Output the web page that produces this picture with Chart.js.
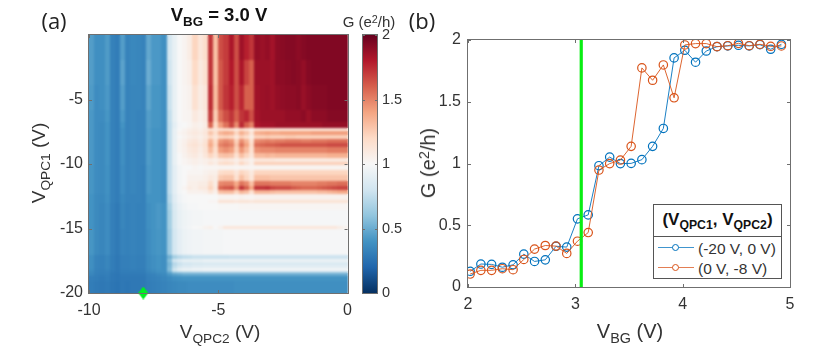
<!DOCTYPE html>
<html><head><meta charset="utf-8">
<script src="https://cdn.jsdelivr.net/npm/chart.js@4"></script>
<style>
html,body{margin:0;padding:0;background:#fff;width:830px;height:349px;overflow:hidden}
canvas{position:absolute}
.t{position:absolute;font-family:"Liberation Sans",Arial,sans-serif;color:#333;white-space:nowrap;line-height:1;transform:translate(-50%,-50%)}
.t sub{font-size:.72em;vertical-align:baseline;position:relative;top:.34em;line-height:0}
.t sup{font-size:.72em;vertical-align:baseline;position:relative;top:-.4em;line-height:0}
.p{font-family:"Open Sans",sans-serif;color:#222;font-size:22px}
#leg{position:absolute;left:653px;top:204px;width:127px;height:73px;border:1px solid #555;background:#fff;font-family:"Liberation Sans",Arial,sans-serif;color:#333}
#leg .h{position:absolute;left:0;right:0;top:0;height:31px;border-bottom:1px solid #555;text-align:center;font-weight:bold;font-size:17px;line-height:30px;color:#111}
#leg .h sub{font-size:.72em;vertical-align:baseline;position:relative;top:.3em;line-height:0}
.ln{position:absolute;left:4px;width:36px;height:1px;opacity:.75}
.mk{position:absolute;left:18px;width:5px;height:5px;border-radius:50%;background:#fff;border:1.2px solid}
.lt{position:absolute;left:44px;font-size:15.5px;line-height:1}
</style></head><body>
<canvas id="heat" width="360" height="349" style="left:0;top:0"></canvas>
<canvas id="bar" width="50" height="349" style="left:360px;top:0"></canvas>
<canvas id="line" width="420" height="349" style="left:410px;top:0"></canvas>

<div class="t p" style="left:54px;top:20px">(a)</div>
<div class="t p" style="left:422px;top:20px">(b)</div>
<div class="t" style="left:219px;top:15px;font-weight:bold;font-size:18.5px;color:#111">V<sub>BG</sub> = 3.0 V</div>
<div class="t" style="left:369px;top:21px;font-size:15px">G (e<sup>2</sup>/h)</div>
<div class="t" style="left:38px;top:163px;font-size:19px;transform:translate(-50%,-50%) rotate(-90deg)">V<sub>QPC1</sub> (V)</div>
<div class="t" style="left:220px;top:331px;font-size:19px">V<sub>QPC2</sub> (V)</div>
<div class="t" style="left:428px;top:163px;font-size:20px;transform:translate(-50%,-50%) rotate(-90deg)">G (e<sup>2</sup>/h)</div>
<div class="t" style="left:630px;top:331px;font-size:20px">V<sub>BG</sub> (V)</div>
<div id="leg">
 <div class="h">(V<sub>QPC1</sub>, V<sub>QPC2</sub>)</div>
 <div class="ln" style="top:42px;background:#0072bd"></div><div class="mk" style="top:39px;border-color:#0072bd"></div><div class="lt" style="top:36px">(-20 V, 0 V)</div>
 <div class="ln" style="top:62px;background:#d95319"></div><div class="mk" style="top:59px;border-color:#d95319"></div><div class="lt" style="top:56px">(0 V, -8 V)</div>
</div>

<script>
// ---------- panel (b) ----------
const vbg=[2.02,2.12,2.22,2.32,2.42,2.52,2.62,2.72,2.82,2.92,3.02,3.12,3.22,3.32,3.42,3.52,3.62,3.72,3.82,3.92,4.02,4.12,4.22,4.32,4.42,4.52,4.62,4.72,4.82,4.92];
const gBlue=[.127,.186,.183,.16,.18,.266,.207,.22,.33,.323,.552,.584,.982,1.052,.999,1.001,1.031,1.139,1.284,1.855,1.917,1.82,1.911,1.946,1.952,1.957,1.952,1.962,1.925,1.965];
const gOrange=[.105,.135,.135,.148,.14,.223,.307,.336,.331,.272,.371,.441,.947,.999,1.028,1.139,1.774,1.674,1.798,1.532,1.96,1.971,1.971,1.946,1.954,1.973,1.954,1.965,1.949,1.952];
const vbgMarker=[3.055];
const xTicksB=[2,3,4,5], yTicksB=[0,.5,1,1.5,2];
// ---------- panel (a) ----------
const xTicksA=[-10,-5,0], yTicksA=[-20,-15,-10,-5], barTicks=[0,.5,1,1.5,2];
const diamond=[{x:-7.9,y:-20}];
const colorPos=[0,.2,.4,.6,.8,1,1.2,1.4,1.6,1.8,2];
const colorHex=['#053061','#2166ac','#4393c3','#92c5de','#d1e5f0','#f7f7f7','#fddbc7','#f4a582','#d6604d','#b2182b','#67001f'];
const qpc2Edges=[-10,-9.8,-9.6,-9.4,-9.2,-9,-8.8,-8.6,-8.4,-8.2,-8,-7.8,-7.6,-7.4,-7.2,-7,-6.8,-6.6,-6.4,-6.2,-6,-5.8,-5.6,-5.4,-5.2,-5,-4.8,-4.6,-4.4,-4.2,-4,-3.8,-3.6,-3.4,-3.2,-3,-2.8,-2.6,-2.4,-2.2,-2,-1.8,-1.6,-1.4,-1.2,-1,-.8,-.6,-.4,-.2,0];
const qpc1Edges=[0,-1.94,-3.88,-5.81,-6.74,-7.2,-7.44,-7.75,-8.06,-8.37,-8.68,-9.15,-9.53,-9.84,-10.08,-10.47,-10.85,-11.32,-11.71,-12.02,-12.33,-12.79,-13.02,-13.57,-14.81,-15.04,-17.05,-17.36,-17.6,-17.91,-18.14,-18.29,-18.45,-18.68,-19.1,-20];
// conductance in units of 0.01 e^2/h, one row per QPC1 band, one column per QPC2 band
const conductance=[
[44,38,38,43,32,30,44,33,35,34,33,48,42,42,38,82,92,100,103,108,122,112,118,172,130,165,170,182,165,185,178,172,188,186,188,184,190,191,192,192,190,192,193,193,193,193,193,193,193,193],
[44,38,38,43,32,30,46,33,35,34,33,50,42,42,38,80,92,100,103,106,120,110,116,172,130,162,170,180,165,182,168,160,186,186,186,185,190,190,191,192,191,188,192,193,193,193,193,193,193,193],
[43,37,38,42,32,30,44,33,34,34,33,47,41,41,38,78,92,100,102,104,116,108,112,174,132,162,172,178,165,176,160,160,185,186,187,185,188,189,190,190,191,187,190,192,192,192,193,193,193,193],
[42,37,37,41,32,30,42,33,34,33,33,44,41,41,38,76,92,100,102,103,110,106,110,170,126,155,165,172,160,172,176,165,184,186,186,186,186,186,188,188,188,190,186,190,190,190,192,192,192,192],
[42,37,36,40,32,30,40,33,34,33,33,44,41,41,38,75,90,99,100,102,106,104,108,158,120,142,155,168,148,175,160,150,182,184,184,184,186,186,186,186,186,186,186,186,186,188,188,188,188,188],
[42,37,36,40,32,30,38,33,34,33,33,43,40,40,38,75,92,100,103,106,108,106,110,116,112,116,118,116,110,118,112,106,116,116,116,116,114,114,114,114,114,114,114,114,114,114,114,114,114,114],
[42,37,36,40,32,30,38,33,34,33,33,43,40,40,38,75,92,102,104,108,110,108,112,128,118,134,138,136,122,136,128,114,136,138,140,138,138,140,140,140,140,140,140,142,142,142,142,142,142,142],
[42,37,36,40,32,30,38,33,34,33,33,43,40,40,38,75,92,100,103,106,108,106,110,120,112,122,124,122,112,124,118,108,124,124,126,124,124,124,126,126,124,124,124,124,124,124,124,124,124,124],
[42,37,36,40,32,30,38,33,34,33,33,43,40,40,38,75,92,102,105,110,112,108,114,134,120,144,148,144,124,146,134,116,148,150,152,150,152,152,154,154,154,152,152,154,154,154,156,156,156,156],
[42,37,36,40,32,30,38,33,34,33,33,43,40,40,38,75,92,102,106,112,114,110,116,138,122,150,154,150,128,154,140,120,156,158,160,160,162,164,164,164,164,164,164,164,164,164,166,166,166,166],
[42,37,36,40,32,30,38,33,34,33,33,43,40,40,38,75,92,102,105,110,112,108,114,132,118,142,146,142,124,144,132,116,146,148,148,148,150,150,150,150,150,150,150,150,150,150,152,152,152,152],
[42,37,36,40,32,30,38,33,34,33,33,43,40,40,38,75,92,100,104,108,110,106,112,122,114,128,130,128,116,130,122,112,132,132,134,132,134,134,134,134,134,134,134,134,134,134,136,136,136,136],
[42,37,36,40,32,30,38,33,34,33,33,43,40,40,38,75,92,100,102,104,106,104,106,108,106,110,112,110,106,112,108,104,112,112,112,112,110,110,110,110,110,110,110,110,110,110,110,110,110,110],
[42,37,36,40,32,30,38,33,34,33,33,43,40,40,38,75,92,100,102,104,106,104,106,112,108,118,120,118,110,122,114,106,124,124,124,124,124,124,124,124,124,124,124,124,124,124,124,124,124,124],
[41,37,36,39,32,30,37,33,34,33,32,42,40,40,38,75,90,98,100,100,102,101,102,102,102,103,103,103,102,103,103,102,103,103,103,103,103,103,103,103,103,103,103,103,103,103,103,103,103,103],
[41,37,36,39,32,30,37,33,34,33,32,42,40,40,38,75,90,98,100,102,102,102,104,106,106,118,120,120,112,122,118,110,122,122,122,122,122,122,122,122,122,122,122,122,122,122,122,122,122,122],
[41,37,36,39,32,30,37,33,34,33,32,42,40,40,38,75,90,98,100,104,104,104,106,110,108,126,128,128,116,130,122,112,130,130,130,128,128,128,128,128,128,128,128,128,128,128,128,128,128,128],
[41,37,36,39,32,30,37,33,34,33,32,42,40,40,38,75,90,98,100,106,106,108,108,118,108,148,150,150,138,154,148,130,154,154,154,152,152,152,152,150,150,150,150,150,152,152,154,154,156,156],
[41,37,36,39,32,30,37,33,34,33,32,42,40,40,38,75,90,98,102,108,106,110,110,122,110,158,162,164,146,172,160,140,172,172,174,168,166,166,166,162,160,158,158,158,160,162,164,166,168,168],
[41,37,36,39,32,30,37,33,34,33,32,42,40,40,38,75,90,98,100,104,104,104,106,112,106,130,132,132,122,134,130,116,134,134,134,132,130,130,130,130,130,130,130,130,132,132,134,136,138,138],
[40,36,35,38,32,30,35,33,33,33,32,40,40,40,38,72,88,96,99,100,100,100,100,100,100,103,103,103,102,104,103,102,104,104,104,104,104,104,104,104,104,104,104,104,104,104,104,104,104,104],
[40,36,35,38,32,30,35,33,33,33,32,40,40,40,38,72,88,96,99,100,100,100,100,102,102,114,114,114,112,114,114,112,114,114,114,114,114,114,114,114,114,114,114,114,114,114,114,114,114,114],
[40,36,34,37,31,29,34,32,33,32,32,38,40,42,40,68,85,93,97,99,99,100,100,100,100,101,101,101,101,102,102,102,102,102,102,102,102,102,102,102,102,102,102,102,102,102,102,102,102,102],
[40,36,34,37,31,29,34,32,33,32,32,38,40,42,40,66,84,92,95,97,98,98,99,99,99,99,99,99,99,99,99,99,99,99,99,99,99,99,99,99,99,99,99,99,99,99,99,99,99,99],
[40,36,34,37,31,29,34,32,33,32,32,38,40,42,40,66,84,92,96,98,100,101,104,106,100,104,112,112,112,112,112,112,112,112,112,112,112,112,112,112,112,112,112,112,112,112,112,112,108,104],
[41,36,34,37,31,29,33,32,33,32,32,37,40,41,40,64,82,90,94,96,97,97,98,98,98,98,99,99,99,99,99,99,99,99,99,99,99,99,99,99,99,99,99,99,99,99,99,99,99,99],
[38,33,32,34,30,28,31,31,32,31,31,36,38,40,38,52,66,72,75,76,78,78,78,78,78,78,78,79,79,79,79,79,79,79,79,79,79,79,79,79,79,79,79,79,79,79,79,79,79,79],
[38,33,32,34,30,28,31,31,32,31,31,36,38,40,38,58,82,88,92,92,92,92,94,94,94,94,94,94,94,94,94,94,94,94,94,94,94,94,94,94,94,94,94,94,94,94,94,94,94,94],
[38,33,32,34,30,28,31,31,32,31,31,36,38,40,38,54,72,78,82,82,84,84,85,85,85,85,85,85,85,85,85,85,85,85,85,85,85,85,85,85,85,85,85,85,85,85,85,85,85,85],
[38,33,32,34,30,28,31,31,32,31,31,36,38,40,38,56,76,84,88,88,90,90,91,91,91,91,91,91,91,91,91,91,91,91,91,91,91,91,91,91,91,91,91,91,91,91,91,91,91,91],
[37,32,31,33,30,28,30,30,31,30,30,35,37,39,38,58,85,95,98,98,99,99,100,100,100,100,100,100,100,100,100,100,100,100,100,100,100,100,100,100,100,100,100,100,100,100,100,100,100,100],
[36,32,31,32,29,28,30,30,30,30,30,34,36,38,38,50,66,70,72,72,73,73,74,74,74,74,74,74,74,74,74,74,74,74,74,74,74,74,74,74,74,74,74,74,74,74,74,74,74,74],
[34,31,30,31,28,27,29,29,29,29,29,32,33,35,36,42,46,48,50,50,50,50,50,50,50,50,50,50,50,50,50,50,50,50,50,50,50,50,50,50,50,50,50,50,50,50,50,50,50,50],
[31,30,29,30,28,27,28,28,28,28,28,31,32,33,34,36,38,39,40,40,40,40,40,40,40,40,40,40,40,40,40,40,40,40,40,40,40,40,40,40,40,40,40,40,40,40,40,40,40,40],
[30,29,28,29,27,26,28,27,28,28,28,30,31,32,33,34,35,36,36,37,37,37,37,37,37,37,37,37,38,38,38,38,38,38,38,38,38,38,38,38,38,38,38,38,38,38,38,38,38,38]
];

function hex(h){return [1,3,5].map(i=>parseInt(h.substr(i,2),16));}
function cmap(v){
  v=Math.max(0,Math.min(2,v));
  let i=0; while(i<colorPos.length-2&&v>colorPos[i+1])i++;
  const t=(v-colorPos[i])/(colorPos[i+1]-colorPos[i]),a=hex(colorHex[i]),b=hex(colorHex[i+1]);
  return 'rgb('+a.map((c,k)=>Math.round(c+(b[k]-c)*t)).join(',')+')';
}
const AXC='#6f6f6f', TXT='#333';
const frame={id:'frame',afterDatasetsDraw(ch,args,o){
  const c=ch.ctx,a=ch.chartArea,l=o.len||3; c.save(); c.strokeStyle=AXC; c.lineWidth=1;
  c.strokeRect(Math.round(a.left)-.5,Math.round(a.top)-.5,Math.round(a.right-a.left)+1,Math.round(a.bottom-a.top)+1);
  c.beginPath();
  if(ch.scales.x&&!o.noX) ch.scales.x.ticks.forEach(t=>{const p=Math.round(ch.scales.x.getPixelForValue(t.value))+.5;c.moveTo(p,a.bottom);c.lineTo(p,a.bottom-l);c.moveTo(p,a.top);c.lineTo(p,a.top+l);});
  ch.scales.y.ticks.forEach(t=>{const p=Math.round(ch.scales.y.getPixelForValue(t.value))+.5;c.moveTo(a.left,p);c.lineTo(a.left+l,p);c.moveTo(a.right,p);c.lineTo(a.right-l,p);});
  c.stroke(); c.restore();
}};
const heatPlugin={id:'heatcells',beforeDatasetsDraw(ch){
  const X=ch.scales.x,Y=ch.scales.y,a=ch.chartArea;
  const off=document.createElement('canvas'); off.width=ch.width; off.height=ch.height;
  const o=off.getContext('2d');
  conductance.forEach((row,r)=>row.forEach((v,k)=>{
    const x0=Math.round(X.getPixelForValue(qpc2Edges[k])),x1=Math.round(X.getPixelForValue(qpc2Edges[k+1]));
    const y0=Math.round(Y.getPixelForValue(qpc1Edges[r])),y1=Math.round(Y.getPixelForValue(qpc1Edges[r+1]));
    o.fillStyle=cmap(v/100); o.fillRect(x0,y0,x1-x0,y1-y0);
  }));
  const c=ch.ctx; c.save();
  c.beginPath(); c.rect(a.left,a.top,a.right-a.left,a.bottom-a.top); c.clip();
  c.drawImage(off,0,0);
  c.filter='blur(0.9px)'; c.drawImage(off,0,0);
  c.restore();
}};
const rampPlugin={id:'ramp',beforeDatasetsDraw(ch){
  const c=ch.ctx,a=ch.chartArea,Y=ch.scales.y;
  const g=c.createLinearGradient(0,Y.getPixelForValue(0),0,Y.getPixelForValue(2));
  colorPos.forEach((p,i)=>g.addColorStop(p/2,colorHex[i]));
  c.fillStyle=g; c.fillRect(a.left,a.top,a.right-a.left,a.bottom-a.top);
}};
function axis(min,max,list,opts){
  return Object.assign({type:'linear',min,max,grid:{display:false,drawTicks:false},border:{display:false},
    afterBuildTicks:s=>{s.ticks=list.map(v=>({value:v}));},
    ticks:{color:TXT,font:{family:'"Liberation Sans",Arial,sans-serif',size:opts.size||16},maxRotation:0,autoSkip:false,padding:opts.pad,callback:v=>String(v)}},opts.extra||{});
}
const base={responsive:false,animation:false,devicePixelRatio:1,plugins:{legend:{display:false},tooltip:{enabled:false}}};
const diamondImg=(()=>{const d=document.createElement('canvas');d.width=10;d.height=13;const g=d.getContext('2d');g.fillStyle='#00f020';g.beginPath();g.moveTo(5,0);g.lineTo(10,6.5);g.lineTo(5,13);g.lineTo(0,6.5);g.closePath();g.fill();return d;})();

new Chart(document.getElementById('heat'),{type:'scatter',
  data:{datasets:[{label:'marker',data:diamond,pointStyle:diamondImg,clip:false,pointRadius:6}]},
  options:Object.assign({},base,{layout:{padding:{top:35,right:11,left:0,bottom:0}},
    plugins:Object.assign({},base.plugins,{frame:{len:3}}),
    scales:{
      x:axis(-10,0,xTicksA,{pad:8,extra:{afterFit:s=>{s.height=56;}}}),
      y:axis(-20,0,yTicksA,{pad:6,extra:{afterFit:s=>{s.width=89;}}})
    }}),
  plugins:[heatPlugin,frame]});

new Chart(document.getElementById('bar'),{type:'scatter',
  data:{datasets:[]},
  options:Object.assign({},base,{layout:{padding:{top:35,left:3,right:0,bottom:0}},
    plugins:Object.assign({},base.plugins,{frame:{len:2,noX:true}}),
    scales:{
      x:{display:false,type:'linear',min:0,max:1,afterFit:s=>{s.height=56;}},
      y:axis(0,2,barTicks,{pad:5,size:14.5,extra:{position:'right',afterFit:s=>{s.width=33;}}})
    }}),
  plugins:[rampPlugin,frame]});

const xy=(xs,ys)=>xs.map((x,i)=>({x,y:ys[i]}));
const ser=(label,color,ys)=>({label,data:xy(vbg,ys),borderColor:color,backgroundColor:'rgba(0,0,0,0)',borderWidth:.9,pointRadius:4.2,pointBorderWidth:1.2,pointBorderColor:color,showLine:true,tension:0});
new Chart(document.getElementById('line'),{type:'scatter',
  data:{datasets:[
    {label:'V_BG = 3.0 V',data:[{x:vbgMarker[0],y:0},{x:vbgMarker[0],y:2}],showLine:true,borderColor:'#08ee12',borderWidth:3.2,pointRadius:0},
    ser('(0 V, -8 V)','#d95319',gOrange),
    ser('(-20 V, 0 V)','#0072bd',gBlue)
  ]},
  options:Object.assign({},base,{layout:{padding:{top:40,right:40,left:0,bottom:0}},
    plugins:Object.assign({},base.plugins,{frame:{len:3}}),
    scales:{
      x:axis(2,5,xTicksB,{pad:8,extra:{afterFit:s=>{s.height=62;}}}),
      y:axis(0,2,yTicksB,{pad:7,extra:{afterFit:s=>{s.width=58;}}})
    }}),
  plugins:[frame]});
</script>
</body></html>
